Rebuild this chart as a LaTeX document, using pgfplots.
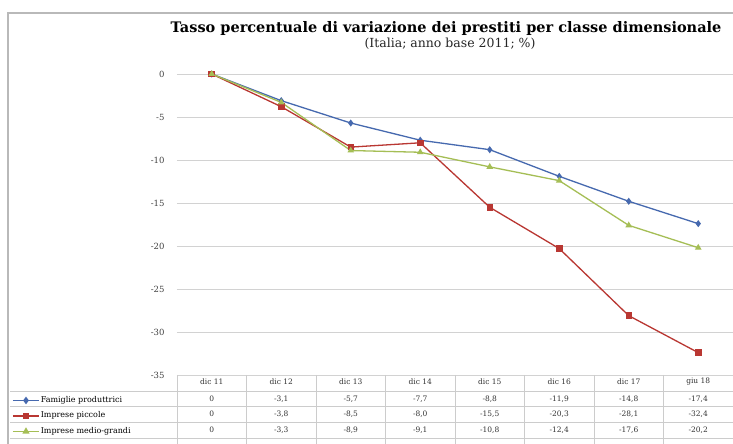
\documentclass[border=0pt]{standalone}
\usepackage{pgfplots}
\usepackage{pgfplotstable}
\pgfplotsset{compat=1.18}
\usepackage{fontspec}
\setmainfont{DejaVu Serif}
\definecolor{cblue}{RGB}{70,105,175}
\definecolor{cred}{RGB}{185,55,50}
\definecolor{cgreen}{RGB}{165,190,85}
\pgfplotstableread{
x blue red green
0 0 0 0
1 -3.1 -3.8 -3.3
2 -5.7 -8.5 -8.9
3 -7.7 -8.0 -9.1
4 -8.8 -15.5 -10.8
5 -11.9 -20.3 -12.4
6 -14.8 -28.1 -17.6
7 -17.4 -32.4 -20.2
}\datatab
\begin{document}
\begin{tikzpicture}[x=1pt,y=1pt]
\useasboundingbox (0,0) rectangle (733,444);
\fill[white] (0,0) rectangle (733,444);
\draw[gray!55, line width=1.5] (8,-5) -- (8,431) -- (745,431);
\node[font=\bfseries\fontsize{14.5}{17}\selectfont] at (446,415) {Tasso percentuale di variazione dei prestiti per classe dimensionale};
\node[font=\fontsize{12.5}{14}\selectfont, text=black!85] at (450,400) {(Italia; anno base 2011; \%)};
\begin{axis}[at={(177pt,69pt)}, anchor=south west, scale only axis,
  width=556pt, height=301pt, xmin=-0.5, xmax=7.5, ymin=-35, ymax=0,
  clip=false, axis line style={draw=none}, xtick=\empty,
  ytick={-35,-30,...,0}, ymajorgrids, grid style={gray!35, line width=0.8pt},
  major tick length=0pt,
  yticklabel style={font=\fontsize{8.5}{9}\selectfont, text=black!75, xshift=-9pt},
  /pgf/number format/assume math mode=true,
  legend image code/.code={\draw[mark repeat=2,mark phase=2,#1,line width=1.6pt] plot coordinates {(0pt,0pt) (13pt,0pt) (26pt,0pt)};},
  legend style={at={(axis description cs:-0.2968,-0.069)}, anchor=north west, draw=none, fill=none,
    font=\fontsize{8}{8}\selectfont, row sep=6.5pt, inner sep=0pt,
    nodes={inner sep=1pt, text height=5.5pt, text depth=1.5pt}},
  legend cell align=left]
\addplot[cblue, line width=1.3pt, mark=diamond*, mark size=2.5pt] table[x=x,y=blue] {\datatab};
\addlegendentry{Famiglie produttrici}
\addplot[cred, line width=1.3pt, mark=square*, mark size=2.6pt] table[x=x,y=red] {\datatab};
\addlegendentry{Imprese piccole}
\addplot[cgreen, line width=1.3pt, mark=triangle*, mark size=2.6pt] table[x=x,y=green] {\datatab};
\addlegendentry{Imprese medio-grandi}
\end{axis}
% data table
\foreach \i in {0,...,8} {\draw[gray!40, line width=0.7] (177+69.5*\i,69) -- (177+69.5*\i,0);}
\foreach \yy in {53,38,22,6} {\draw[gray!40, line width=0.7] (10,\yy) -- (733,\yy);}
\foreach \lab [count=\i from 0] in {dic 11,dic 12,dic 13,dic 14,dic 15,dic 16,dic 17,giu 18}
  {\node[font=\fontsize{7.5}{8}\selectfont, text=black!80] at (211.75+69.5*\i,62) {\lab};}
\foreach \v [count=\i from 0] in {0,{-3,1},{-5,7},{-7,7},{-8,8},{-11,9},{-14,8},{-17,4}}
  {\node[font=\fontsize{7.5}{8}\selectfont, text=black!80] at (211.75+69.5*\i,45) {\v};}
\foreach \v [count=\i from 0] in {0,{-3,8},{-8,5},{-8,0},{-15,5},{-20,3},{-28,1},{-32,4}}
  {\node[font=\fontsize{7.5}{8}\selectfont, text=black!80] at (211.75+69.5*\i,30) {\v};}
\foreach \v [count=\i from 0] in {0,{-3,3},{-8,9},{-9,1},{-10,8},{-12,4},{-17,6},{-20,2}}
  {\node[font=\fontsize{7.5}{8}\selectfont, text=black!80] at (211.75+69.5*\i,14) {\v};}
\end{tikzpicture}
\end{document}
